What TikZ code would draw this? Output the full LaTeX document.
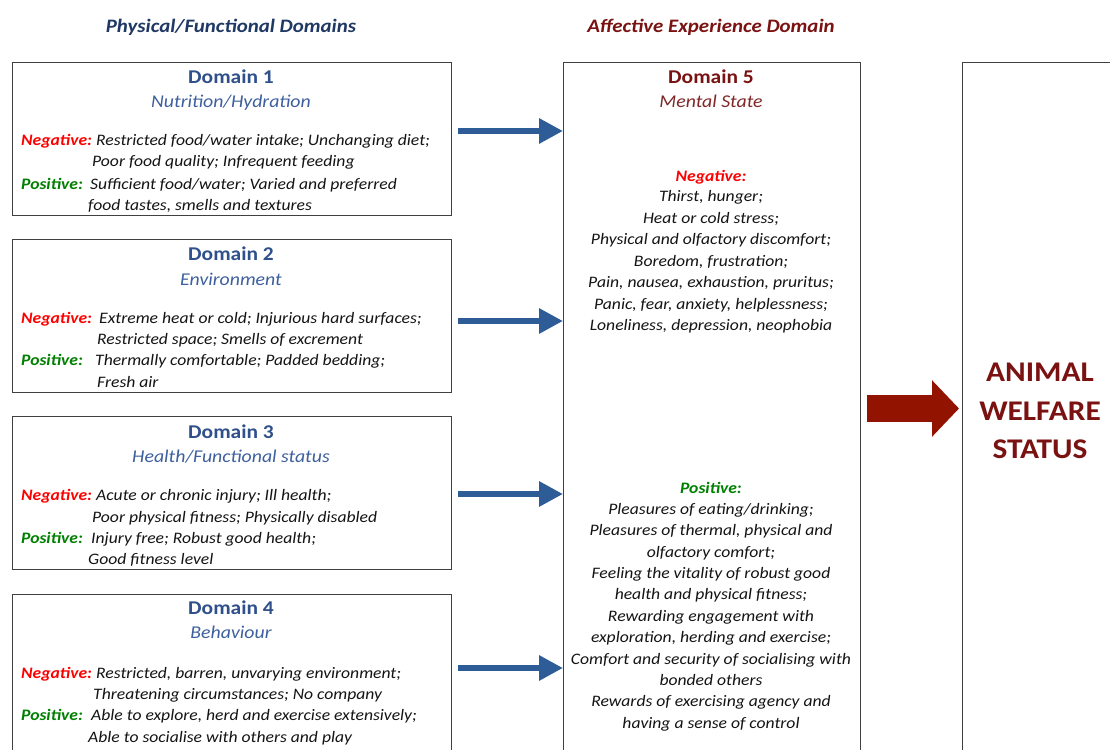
\documentclass[tikz,border=0pt]{standalone}
\usepackage{fontspec}
\setmainfont{Carlito}[FakeStretch=1.1]
\usetikzlibrary{arrows.meta}
\definecolor{hblue}{RGB}{31,56,100}
\definecolor{tblue}{RGB}{47,80,138}
\definecolor{sblue}{RGB}{62,96,158}
\definecolor{hred}{RGB}{122,18,18}
\definecolor{sred}{RGB}{128,40,40}
\definecolor{negc}{RGB}{255,0,0}
\definecolor{posc}{RGB}{0,128,0}
\definecolor{textc}{RGB}{20,20,20}
\definecolor{ablue}{RGB}{46,92,150}
\definecolor{ared}{RGB}{146,20,0}
\newcommand\bfnt{\fontsize{16}{19}\selectfont\itshape}
\begin{document}
\begin{tikzpicture}[x=1pt,y=-1pt,
  box/.style={draw=black!75,line width=1pt,anchor=north west,inner sep=0,minimum width=439pt,minimum height=153pt},
  header/.style={anchor=mid,inner sep=0,yshift=-5pt,font=\fontsize{19}{22}\selectfont\bfseries\itshape},
  dtitle/.style={anchor=mid,inner sep=0,yshift=-5pt,font=\fontsize{19.5}{23}\selectfont\bfseries},
  dsub/.style={anchor=mid,inner sep=0,yshift=-5pt,font=\fontsize{18}{22}\selectfont\itshape},
  neglbl/.style={anchor=mid west,inner sep=0,yshift=-4pt,font=\bfnt\bfseries,text=negc},
  poslbl/.style={anchor=mid west,inner sep=0,yshift=-4pt,font=\bfnt\bfseries,text=posc},
  txt/.style={anchor=mid west,inner sep=0,yshift=-4pt,font=\bfnt,text=textc},
  ctxt/.style={anchor=mid,inner sep=0,yshift=-4pt,font=\bfnt,text=textc},
  barrow/.style={draw=ablue,line width=6.5pt,-{Triangle[length=24pt,width=24pt]}},
  rarrow/.style={draw=ared,line width=27pt,-{Triangle[length=27pt,width=55pt]}},
  big/.style={anchor=mid,inner sep=0,yshift=-8pt,font=\fontsize{28.5}{34}\selectfont\bfseries,text=hred}]
\useasboundingbox[fill=white] (0,0) rectangle (1110,749);

% headers
\node[header,text=hblue] (h1) at (231,25) {Physical/Functional Domains};
\node[header,text=hred] (h2) at (711,25) {Affective Experience Domain};

% boxes
\node[box] (d1) at (12,62) {};
\node[box] (d2) at (12,239) {};
\node[box] (d3) at (12,416) {};
\node[box,minimum height=200pt] (d4) at (12,594) {};
\node[box,minimum width=297pt,minimum height=720pt] (d5) at (563,62) {};
\node[box,minimum width=220pt,minimum height=720pt] (aw) at (962,62) {};

% Domain 1
\node[dtitle,text=tblue] (t1) at (231,76) {Domain 1};
\node[dsub,text=sblue] (s1) at (231,100) {Nutrition/Hydration};
\node[neglbl] (n1a) at (21,139) {Negative:};
\node[txt] (n1b) at (96,139) {Restricted food/water intake; Unchanging diet;};
\node[txt] (n1c) at (92,160) {Poor food quality; Infrequent feeding};
\node[poslbl] (p1a) at (21,183) {Positive:};
\node[txt] (p1b) at (90,183) {Sufficient food/water; Varied and preferred};
\node[txt] (p1c) at (88,204) {food tastes, smells and textures};

% Domain 2
\node[dtitle,text=tblue] (t2) at (231,253) {Domain 2};
\node[dsub,text=sblue] (s2) at (231,278) {Environment};
\node[neglbl] (n2a) at (21,317) {Negative:};
\node[txt] (n2b) at (99,317) {Extreme heat or cold; Injurious hard surfaces;};
\node[txt] (n2c) at (97,338) {Restricted space; Smells of excrement};
\node[poslbl] (p2a) at (21,359) {Positive:};
\node[txt] (p2b) at (95,359) {Thermally comfortable; Padded bedding;};
\node[txt] (p2c) at (97,381) {Fresh air};

% Domain 3
\node[dtitle,text=tblue] (t3) at (231,431) {Domain 3};
\node[dsub,text=sblue] (s3) at (231,455) {Health/Functional status};
\node[neglbl] (n3a) at (21,494) {Negative:};
\node[txt] (n3b) at (96,494) {Acute or chronic injury; Ill health;};
\node[txt] (n3c) at (92,516) {Poor physical fitness; Physically disabled};
\node[poslbl] (p3a) at (21,537) {Positive:};
\node[txt] (p3b) at (91,537) {Injury free; Robust good health;};
\node[txt] (p3c) at (88,558) {Good fitness level};

% Domain 4
\node[dtitle,text=tblue] (t4) at (231,607) {Domain 4};
\node[dsub,text=sblue] (s4) at (231,631) {Behaviour};
\node[neglbl] (n4a) at (21,672) {Negative:};
\node[txt] (n4b) at (96,672) {Restricted, barren, unvarying environment;};
\node[txt] (n4c) at (93,693) {Threatening circumstances; No company};
\node[poslbl] (p4a) at (21,714) {Positive:};
\node[txt] (p4b) at (91,714) {Able to explore, herd and exercise extensively;};
\node[txt] (p4c) at (88,736) {Able to socialise with others and play};

% Domain 5
\node[dtitle,text=hred] (t5) at (711,76) {Domain 5};
\node[dsub,text=sred] (s5) at (711,100) {Mental State};
\node[anchor=mid,inner sep=0,yshift=-4pt,font=\bfnt\bfseries,text=negc] (n5) at (711,175) {Negative:};
\foreach \t [count=\i] in {{Thirst, hunger;},{Heat or cold stress;},{Physical and olfactory discomfort;},{Boredom, frustration;},{Pain, nausea, exhaustion, pruritus;},{Panic, fear, anxiety, helplessness;},{Loneliness, depression, neophobia}}
  \node[ctxt] (neg\i) at (711,{195.5+21.5*(\i-1)}) {\t};
\node[anchor=mid,inner sep=0,yshift=-4pt,font=\bfnt\bfseries,text=posc] (p5) at (711,487) {Positive:};
\foreach \t [count=\i] in {{Pleasures of eating/drinking;},{Pleasures of thermal, physical and},{olfactory comfort;},{Feeling the vitality of robust good},{health and physical fitness;},{Rewarding engagement with},{exploration, herding and exercise;},{Comfort and security of socialising with},{bonded others},{Rewards of exercising agency and},{having a sense of control}}
  \node[ctxt] (pos\i) at (711,{508+21.4*(\i-1)}) {\t};

% welfare status
\node[big] (w1) at (1040,371) {ANIMAL};
\node[big] (w2) at (1040,410) {WELFARE};
\node[big] (w3) at (1040,448) {STATUS};

% arrows
\coordinate (a1) at (458,131);
\coordinate (a2) at (458,321);
\coordinate (a3) at (458,494);
\coordinate (a4) at (458,668);
\coordinate (ra) at (867,408.5);
\draw[barrow] (a1) -- (d5.west |- a1);
\draw[barrow] (a2) -- (d5.west |- a2);
\draw[barrow] (a3) -- (d5.west |- a3);
\draw[barrow] (a4) -- (d5.west |- a4);
\draw[rarrow] (ra) -- ([xshift=-3pt]aw.west |- ra);
\end{tikzpicture}
\end{document}
